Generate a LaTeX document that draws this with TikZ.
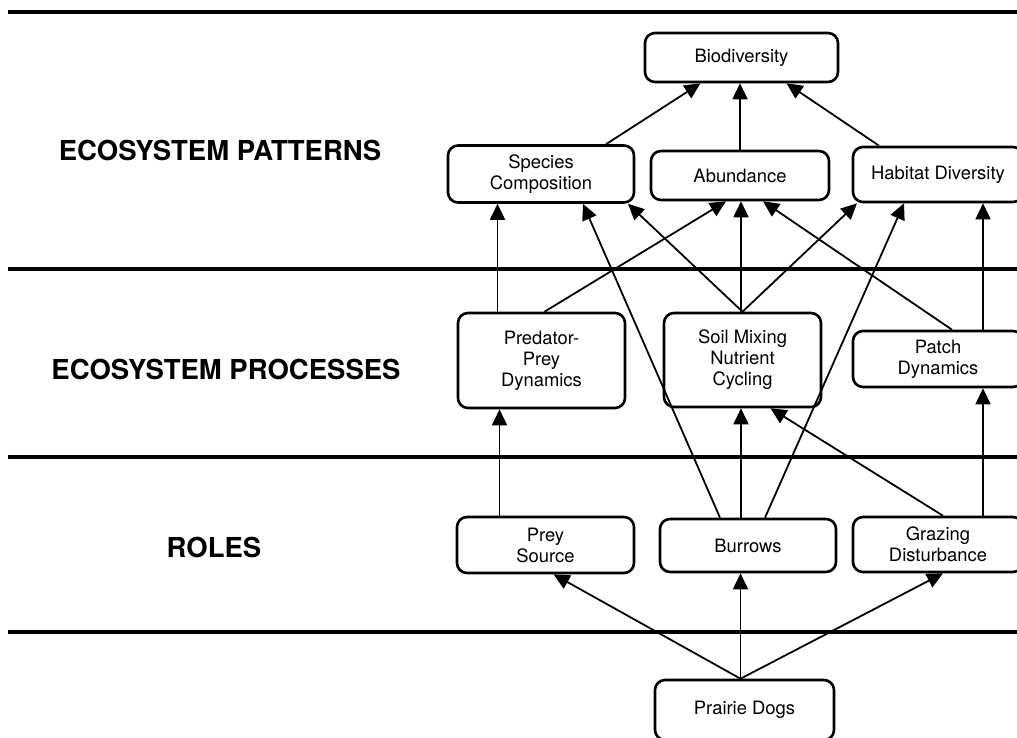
\documentclass[tikz,border=0pt]{standalone}
\usepackage{fontspec}
\setmainfont{TeX Gyre Heros}
\usetikzlibrary{arrows.meta,calc}
\tikzset{
  blk/.style={draw, line width=2.6pt, rounded corners=10pt, inner sep=0pt, align=center, font=\fontsize{18.4}{21}\selectfont},
  arr/.style={-{Triangle[length=16pt,width=15pt]}, line width=1.8pt},
  rul/.style={line width=4pt},
  lvl/.style={font=\fontsize{27.5}{30}\selectfont\bfseries},
}

\begin{document}
\begin{tikzpicture}[x=1pt,y=-1pt]
  \useasboundingbox (0,0) rectangle (1017,738);
  % level rules
  \draw[rul] (8,12) -- (1017,12);
  \draw[rul] (8,268.5) -- (1017,268.5);
  \draw[rul] (8,457) -- (1017,457);
  \draw[rul] (8,631.5) -- (1017,631.5);
  \node[lvl] (pat) at (220,150) {ECOSYSTEM PATTERNS};
  \node[lvl] (pro) at (226,369) {ECOSYSTEM PROCESSES};
  \node[lvl] (rol) at (214,547) {ROLES};
  % boxes
  \node[blk, minimum width=193pt, minimum height=49pt] (bio) at (741.5,57.5) {Biodiversity};
  \node[blk, minimum width=186pt, minimum height=57pt] (spc) at (541,174) {Species\\Composition};
  \node[blk, minimum width=178pt, minimum height=49pt] (abd) at (740,175.5) {Abundance};
  \node[blk, minimum width=170pt, minimum height=55pt] (hab) at (938,174.5) {Habitat Diversity};
  \node[blk, minimum width=167pt, minimum height=95pt] (pp) at (541.5,360.5) {Predator-\\Prey\\Dynamics};
  \node[blk, minimum width=157pt, minimum height=94pt] (soil) at (742.5,360) {Soil Mixing\\Nutrient\\Cycling};
  \node[blk, minimum width=170pt, minimum height=56pt] (patch) at (938,359) {Patch\\Dynamics};
  \node[blk, minimum width=177pt, minimum height=56pt] (prey) at (545.5,545) {Prey\\Source};
  \node[blk, minimum width=176pt, minimum height=53pt] (bur) at (748,545.5) {Burrows};
  \node[blk, minimum width=170pt, minimum height=55pt] (graz) at (938,544.5) {Grazing\\Disturbance};
  \node[blk, minimum width=179pt, minimum height=60pt] (pd) at (744.5,710) {Prairie Dogs};
  \coordinate (pdtop) at ([xshift=-4pt]pd.north);
  % patterns -> biodiversity
  \draw[arr] ([xshift=65pt]spc.north) -- ([xshift=-41pt]bio.south);
  \draw[arr] (abd.north) -- (abd.north |- bio.south);
  \draw[arr] ([xshift=-59pt]hab.north) -- ([xshift=45pt]bio.south);
  % processes -> patterns
  \draw[arr] ([xshift=-44pt]pp.north) -- ([xshift=-44pt]pp.north |- spc.south);
  \draw[arr] ([xshift=3pt]pp.north) -- ([xshift=-14pt]abd.south);
  \draw[arr] (soil.north) -- ([xshift=87pt]spc.south);
  \draw[arr] ([xshift=-1.5pt]soil.north) -- ([xshift=-1.5pt]soil.north |- abd.south);
  \draw[arr] (soil.north) -- ([xshift=-81pt]hab.south);
  \draw[arr] ([xshift=14pt]patch.north) -- ([xshift=23pt]abd.south);
  \draw[arr] ([xshift=45pt]patch.north) -- ([xshift=45pt]hab.south);
  % roles -> processes / patterns
  \draw[arr] ([xshift=-46pt]prey.north) -- ([xshift=-46pt]prey.north |- pp.south);
  \draw[arr] ([xshift=-28pt]bur.north) -- ([xshift=42pt]spc.south);
  \draw[arr] ([xshift=17pt]bur.north) -- ([xshift=-34pt]hab.south);
  \draw[arr] ([xshift=-7pt]bur.north) -- ([xshift=-7pt]bur.north |- soil.south);
  \draw[arr] ([xshift=5pt]graz.north) -- ([xshift=28pt]soil.south);
  \draw[arr] ([xshift=45pt]graz.north) -- ([xshift=45pt]patch.south);
  % prairie dogs -> roles
  \draw[arr] (pdtop) -- ([xshift=8pt]prey.south);
  \draw[arr] (pdtop) -- (pdtop |- bur.south);
  \draw[arr] (pdtop) -- ([xshift=5pt]graz.south);
\end{tikzpicture}
\end{document}
